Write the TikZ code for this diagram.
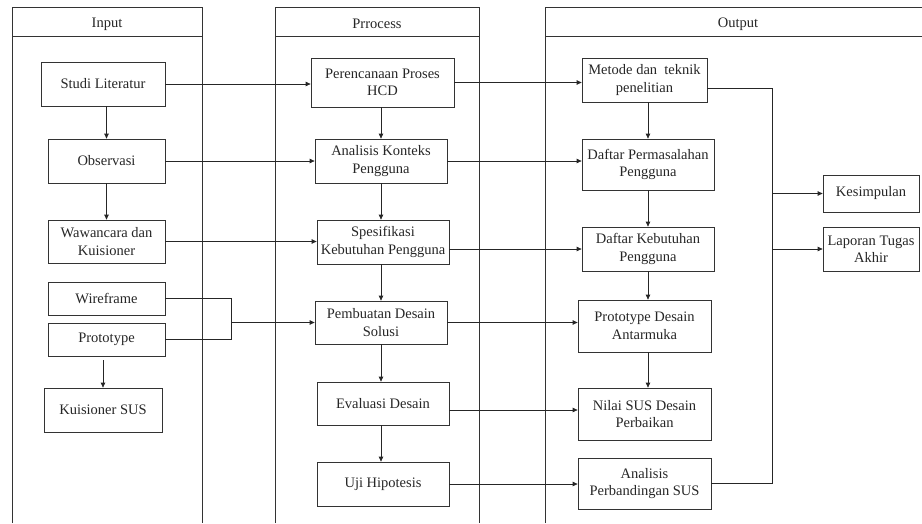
\documentclass[tikz,border=0pt]{standalone}
\usepackage{fontspec}
\setmainfont{Liberation Serif}
\usetikzlibrary{arrows.meta,positioning}

\begin{document}
\begin{tikzpicture}[
  x=1pt,y=-1pt,
  font=\fontsize{14.5}{17.5}\selectfont,
  text=black!85,
  box/.style={draw=black!80,line width=0.75pt,align=center,inner sep=2pt},
  lane/.style={draw=black!80,line width=0.75pt},
  head/.style={inner sep=1pt},
  arr/.style={-{Triangle[length=5pt,width=4.5pt]},line width=0.75pt,black!85},
  lin/.style={line width=0.75pt,black!85}
]
\useasboundingbox (0,0) rectangle (922,523);

% ---------- lanes ----------
\draw[lane] (12,523) |- (202,7) -- (202,523);
\draw[lane] (12,36) -- (202,36);
\draw[lane] (275,523) |- (479,7) -- (479,523);
\draw[lane] (275,36) -- (479,36);
\draw[lane] (545,523) |- (922,7);
\draw[lane] (545,36) -- (922,36);
\node[head] (tin) at (107,24) {Input};
\node[head] (tproc) at (377,24) {Prrocess};
\node[head] (tout) at (738,24) {Output};

% ---------- input ----------
\node[box,minimum width=124pt,minimum height=44pt] (studi) at (103,84) {Studi Literatur};
\node[box,minimum width=117pt,minimum height=44pt] (obs) at (106.5,161) {Observasi};
\node[box,minimum width=117pt,minimum height=43pt] (wawan) at (106.5,241.5) {Wawancara dan\\ Kuisioner};
\node[box,minimum width=117pt,minimum height=33pt] (wire) at (106.5,298.5) {Wireframe};
\node[box,minimum width=117pt,minimum height=33pt] (proto) at (106.5,339.5) {Prototype};
\node[box,minimum width=118pt,minimum height=44pt] (kuis) at (103,410) {Kuisioner SUS};
\coordinate (jn) at (231,322.5);

% ---------- process ----------
\node[box,minimum width=143pt,minimum height=49pt] (hcd) at (382.5,82.5) {Perencanaan Proses\\ HCD};
\node[box,minimum width=132pt,minimum height=44pt] (konteks) at (381,161) {Analisis Konteks\\ Pengguna};
\node[box,minimum width=132pt,minimum height=44pt] (spek) at (383,242) {Spesifikasi\\ Kebutuhan Pengguna};
\node[box,minimum width=132pt,minimum height=43pt] (solusi) at (381,322.5) {Pembuatan Desain\\ Solusi};
\node[box,minimum width=132pt,minimum height=43pt] (eval) at (383,403.5) {Evaluasi Desain};
\node[box,minimum width=132pt,minimum height=44pt] (uji) at (383,484) {Uji Hipotesis};

% ---------- output ----------
\node[box,minimum width=125pt,minimum height=44pt] (metode) at (644.5,80) {Metode dan\ \ teknik\\ penelitian};
\node[box,minimum width=132pt,minimum height=51pt] (masalah) at (648,164.5) {Daftar Permasalahan\\ Pengguna};
\node[box,minimum width=132pt,minimum height=44pt] (butuh) at (648,249) {Daftar Kebutuhan\\ Pengguna};
\node[box,minimum width=133pt,minimum height=52pt] (antar) at (644.5,326) {Prototype Desain\\ Antarmuka};
\node[box,minimum width=133pt,minimum height=52pt] (nilai) at (644.5,414) {Nilai SUS Desain\\ Perbaikan};
\node[box,minimum width=133pt,minimum height=51pt] (banding) at (644.5,483.5) {Analisis\\ Perbandingan SUS};
\node[box,minimum width=96pt,minimum height=37pt] (simpul) at (871,193.5) {Kesimpulan};
\node[box,minimum width=96pt,minimum height=44pt] (lapor) at (871,249) {Laporan Tugas\\ Akhir};
\coordinate (bus) at (772,300);

% ---------- flow ----------
\draw[arr] (studi.south -| obs) -- (obs.north);
\draw[arr] (obs.south) -- (wawan.north);
\draw[arr,shorten <=4pt] (proto.south -| kuis) -- (kuis.north);

\draw[arr] (hcd.south -| konteks) -- (konteks.north);
\draw[arr] (konteks.south) -- (konteks.south |- spek.north);
\draw[arr] (spek.south -| konteks) -- (solusi.north);
\draw[arr] (solusi.south) -- (solusi.south |- eval.north);
\draw[arr] (eval.south -| konteks) -- (konteks |- uji.north);

\draw[arr] (metode.south -| butuh) -- (masalah.north -| butuh);
\draw[arr] (masalah.south -| butuh) -- (butuh.north);
\draw[arr] (butuh.south) -- (antar.north -| butuh);
\draw[arr] (antar.south -| butuh) -- (nilai.north -| butuh);

\draw[arr] (studi.east) -- (studi.east -| hcd.west);
\draw[arr] (obs.east) -- (konteks.west);
\draw[arr] (wawan.east) -- (wawan.east -| spek.west);
\draw[lin] (wire.east) -| (jn);
\draw[lin] (proto.east) -| (jn);
\draw[arr] (jn) -- (solusi.west);

\draw[arr] (hcd.east) -- (hcd.east -| metode.west);
\draw[arr] (konteks.east) -- (konteks.east -| masalah.west);
\draw[arr] (spek.east |- butuh.west) -- (butuh.west);
\draw[arr] (solusi.east) -- (solusi.east -| antar.west);
\draw[arr] ([yshift=-6.5pt]eval.east) -- ([yshift=-6.5pt]eval.east -| nilai.west);
\draw[arr] (uji.east) -- (uji.east -| banding.west);

\draw[lin] ([yshift=-8pt]metode.east) -| (bus |- banding.east) -- (banding.east);
\draw[arr] (bus |- simpul.west) -- (simpul.west);
\draw[arr] (bus |- lapor.west) -- (lapor.west);

\end{tikzpicture}
\end{document}
